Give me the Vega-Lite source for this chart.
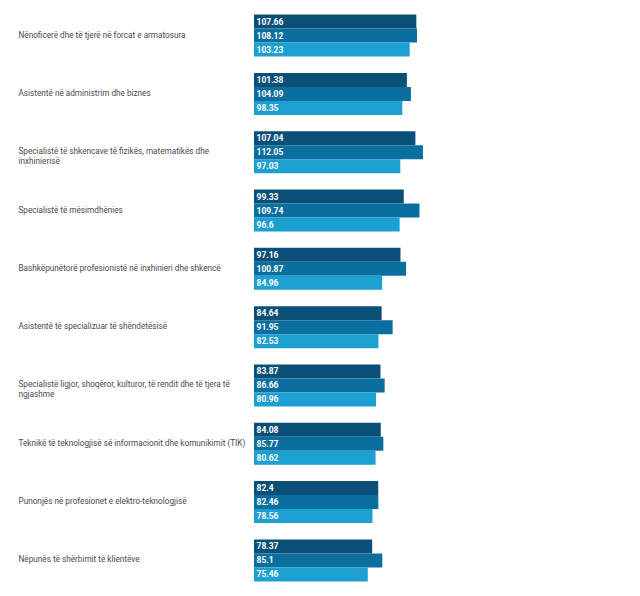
{
  "$schema": "https://vega.github.io/schema/vega-lite/v6.json",
  "width": 386,
  "height": 596,
  "autosize": {"type": "none"},
  "padding": {"left": 254, "top": 0, "right": 0, "bottom": 0},
  "background": "#ffffff",
  "config": {"view": {"stroke": null}, "font": "Roboto"},
  "data": {
    "values": [
      {"cat": "Nënoficerë dhe të tjerë në forcat e armatosura", "series": "Seria 1", "value": 107.66},
      {"cat": "Nënoficerë dhe të tjerë në forcat e armatosura", "series": "Seria 2", "value": 108.12},
      {"cat": "Nënoficerë dhe të tjerë në forcat e armatosura", "series": "Seria 3", "value": 103.23},
      {"cat": "Asistentë në administrim dhe biznes", "series": "Seria 1", "value": 101.38},
      {"cat": "Asistentë në administrim dhe biznes", "series": "Seria 2", "value": 104.09},
      {"cat": "Asistentë në administrim dhe biznes", "series": "Seria 3", "value": 98.35},
      {"cat": "Specialistë të shkencave të fizikës, matematikës dhe inxhinierisë", "series": "Seria 1", "value": 107.04},
      {"cat": "Specialistë të shkencave të fizikës, matematikës dhe inxhinierisë", "series": "Seria 2", "value": 112.05},
      {"cat": "Specialistë të shkencave të fizikës, matematikës dhe inxhinierisë", "series": "Seria 3", "value": 97.03},
      {"cat": "Specialistë të mësimdhënies", "series": "Seria 1", "value": 99.33},
      {"cat": "Specialistë të mësimdhënies", "series": "Seria 2", "value": 109.74},
      {"cat": "Specialistë të mësimdhënies", "series": "Seria 3", "value": 96.6},
      {"cat": "Bashkëpunëtorë profesionistë në inxhinieri dhe shkencë", "series": "Seria 1", "value": 97.16},
      {"cat": "Bashkëpunëtorë profesionistë në inxhinieri dhe shkencë", "series": "Seria 2", "value": 100.87},
      {"cat": "Bashkëpunëtorë profesionistë në inxhinieri dhe shkencë", "series": "Seria 3", "value": 84.96},
      {"cat": "Asistentë të specializuar të shëndetësisë", "series": "Seria 1", "value": 84.64},
      {"cat": "Asistentë të specializuar të shëndetësisë", "series": "Seria 2", "value": 91.95},
      {"cat": "Asistentë të specializuar të shëndetësisë", "series": "Seria 3", "value": 82.53},
      {"cat": "Specialistë ligjor, shoqëror, kulturor, të rendit dhe të tjera të ngjashme", "series": "Seria 1", "value": 83.87},
      {"cat": "Specialistë ligjor, shoqëror, kulturor, të rendit dhe të tjera të ngjashme", "series": "Seria 2", "value": 86.66},
      {"cat": "Specialistë ligjor, shoqëror, kulturor, të rendit dhe të tjera të ngjashme", "series": "Seria 3", "value": 80.96},
      {"cat": "Teknikë të teknologjisë së informacionit dhe komunikimit (TIK)", "series": "Seria 1", "value": 84.08},
      {"cat": "Teknikë të teknologjisë së informacionit dhe komunikimit (TIK)", "series": "Seria 2", "value": 85.77},
      {"cat": "Teknikë të teknologjisë së informacionit dhe komunikimit (TIK)", "series": "Seria 3", "value": 80.62},
      {"cat": "Punonjës në profesionet e elektro-teknologjisë", "series": "Seria 1", "value": 82.4},
      {"cat": "Punonjës në profesionet e elektro-teknologjisë", "series": "Seria 2", "value": 82.46},
      {"cat": "Punonjës në profesionet e elektro-teknologjisë", "series": "Seria 3", "value": 78.56},
      {"cat": "Nëpunës të shërbimit të klientëve", "series": "Seria 1", "value": 78.37},
      {"cat": "Nëpunës të shërbimit të klientëve", "series": "Seria 2", "value": 85.1},
      {"cat": "Nëpunës të shërbimit të klientëve", "series": "Seria 3", "value": 75.46}
    ]
  },
  "encoding": {
    "y": {
      "field": "cat",
      "type": "nominal",
      "sort": null,
      "scale": {"paddingInner": 0.28, "paddingOuter": 0.25},
      "axis": {
        "title": null,
        "domain": false,
        "ticks": false,
        "labelAlign": "left",
        "labelPadding": 236,
        "labelLimit": 0,
        "labelFont": "Roboto",
        "labelFontSize": 8.2,
        "labelColor": "#4a4a4a",
        "labelLineHeight": 10,
        "labelExpr": "datum.value == 'Specialistë të shkencave të fizikës, matematikës dhe inxhinierisë' ? ['Specialistë të shkencave të fizikës, matematikës dhe', 'inxhinierisë'] : datum.value == 'Specialistë ligjor, shoqëror, kulturor, të rendit dhe të tjera të ngjashme' ? ['Specialistë ligjor, shoqëror, kulturor, të rendit dhe të tjera të', 'ngjashme'] : datum.value"
      }
    },
    "yOffset": {"field": "series", "type": "nominal", "sort": ["Seria 1", "Seria 2", "Seria 3"], "scale": {"paddingInner": 0, "paddingOuter": 0}}
  },
  "layer": [
    {
      "mark": {"type": "bar", "cornerRadius": 0},
      "encoding": {
        "x": {
          "field": "value",
          "type": "quantitative",
          "scale": {"domain": [0, 256], "nice": false, "zero": true},
          "axis": null
        },
        "color": {
          "field": "series",
          "type": "nominal",
          "scale": {"domain": ["Seria 1", "Seria 2", "Seria 3"], "range": ["#0a4f77", "#0a6f9f", "#1c9fd1"]},
          "legend": null
        }
      }
    },
    {
      "mark": {"type": "text", "align": "left", "baseline": "middle", "dx": 2.5, "font": "Roboto", "fontSize": 8.5, "fontWeight": "bold", "color": "#ffffff"},
      "encoding": {
        "x": {"datum": 0, "type": "quantitative"},
        "text": {"field": "value", "type": "quantitative", "format": ""}
      }
    }
  ]
}
